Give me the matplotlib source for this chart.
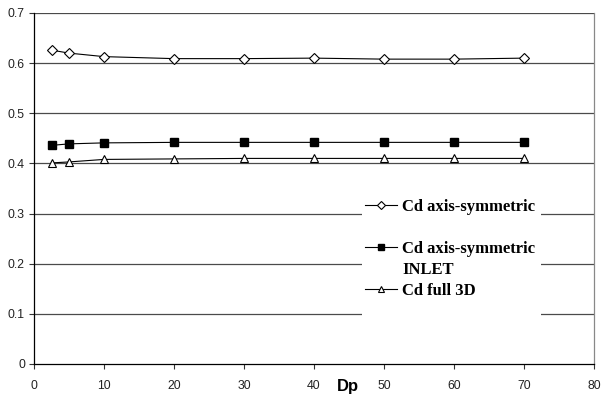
import matplotlib
matplotlib.use("Agg")
import matplotlib.pyplot as plt
from matplotlib.lines import Line2D
from matplotlib.patches import Rectangle

dp = [2.5, 5, 10, 20, 30, 40, 50, 60, 70]
cd_axis = [0.626, 0.620, 0.613, 0.609, 0.609, 0.610, 0.608, 0.608, 0.610]
cd_inlet = [0.436, 0.439, 0.441, 0.442, 0.442, 0.442, 0.442, 0.442, 0.442]
cd_3d = [0.401, 0.403, 0.408, 0.409, 0.410, 0.410, 0.410, 0.410, 0.410]
labels = ["Cd axis-symmetric", "Cd axis-symmetric", "INLET", "Cd full 3D"]
xticks = [0, 10, 20, 30, 40, 50, 60, 70, 80]
yticks = [0, 0.1, 0.2, 0.3, 0.4, 0.5, 0.6, 0.7]

fig = plt.figure(figsize=(6.01, 3.97), dpi=100)
ax = fig.add_axes([34/601, 1-364/397, 560/601, 351/397])
ax.set_xlim(0, 80)
ax.set_ylim(0, 0.7)

for y in yticks[1:]:
    ax.axhline(y, color="#4a4a4a", lw=0.9, zorder=1)

l1, = ax.plot(dp, cd_axis, color="black", lw=0.8, marker="D", ms=5.6,
              mfc="white", mec="black", mew=0.8, zorder=3)
l2, = ax.plot(dp, cd_inlet, color="black", lw=0.8, marker="s", ms=5.5,
              mfc="black", mec="black", zorder=3)
l3, = ax.plot(dp, cd_3d, color="black", lw=0.8, marker="^", ms=6,
              mfc="white", mec="black", mew=0.8, zorder=3)

ax.set_xticks(xticks)
ax.set_xticklabels([str(v) for v in xticks])
ax.set_yticks(yticks)
ax.set_yticklabels(["0" if v == 0 else f"{v:.1f}" for v in yticks])
ax.tick_params(direction="out", length=3.5, width=0.8, color="#333333",
               labelsize=8.8, labelcolor="#222222", pad=3)
for lab in ax.get_xticklabels() + ax.get_yticklabels():
    lab.set_fontfamily("Liberation Sans")
ax.tick_params(axis="x", pad=8)

ax.spines["left"].set_color("black")
ax.spines["bottom"].set_color("black")
ax.spines["right"].set_color("#888888")
ax.spines["top"].set_visible(False)
for s in ax.spines.values():
    s.set_linewidth(0.9)

ax.text(348/601, 1-386/397, "Dp", transform=fig.transFigure, ha="center",
        va="center", fontsize=12, fontweight="bold",
        fontfamily="Liberation Sans")

# white legend area
ax.add_patch(Rectangle(((362-34)/560, (364-326)/351), (541-362)/560,
                       (326-180)/351, transform=ax.transAxes,
                       facecolor="white", edgecolor="none", zorder=2))

blank = Line2D([], [], linestyle="none")
handles = [l1, blank, l2, blank, l3]
hl = [labels[0], " ", labels[1], labels[2], labels[3]]
leg = ax.legend(handles, hl, loc="upper left",
                bbox_to_anchor=((365-34)/560, (364-199)/351),
                frameon=False, borderpad=0, borderaxespad=0,
                handlelength=1.92, handletextpad=0.3, labelspacing=0.3,
                prop={"family": "Liberation Serif", "weight": "bold",
                      "size": 12})
for h in leg.legend_handles:
    try:
        h.set_markersize(4)
    except Exception:
        pass

fig.savefig("out.png", dpi=100)
